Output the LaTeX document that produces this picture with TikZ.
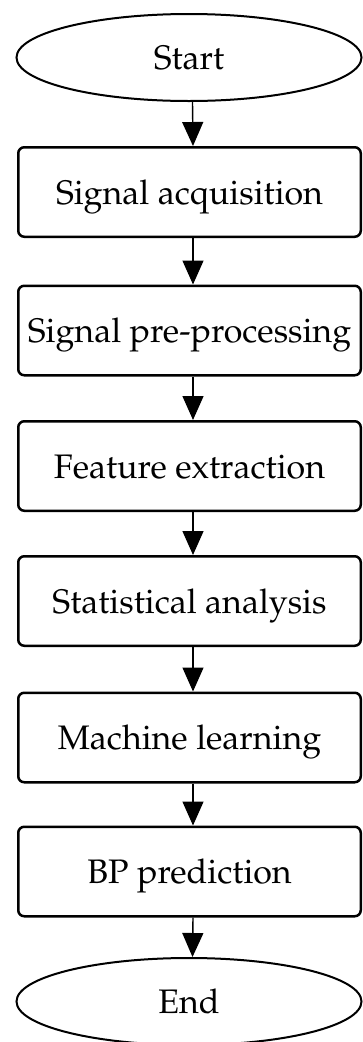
\documentclass[tikz,border=0pt]{standalone}
\usepackage[T1]{fontenc}
\usepackage{mathpazo}
\usetikzlibrary{shapes.geometric,arrows.meta}
\tikzset{
  every node/.style={font=\fontsize{34}{40}\selectfont, inner sep=0pt, text height=24pt, text depth=0pt},
  term/.style={ellipse, draw, line width=2pt, minimum width=345pt, minimum height=87pt},
  proc/.style={rectangle, draw, rounded corners=6pt, line width=2.5pt, minimum width=342.5pt, minimum height=89.5pt},
  conn/.style={line width=1.4pt, -{Triangle[length=24pt,width=21pt]}}
}
\begin{document}
\begin{tikzpicture}[x=1pt,y=-1pt]
\useasboundingbox (0,0) rectangle (363,1042);
\node[term] (start) at (189,57.5) {Start};
\node[proc] (p1) at (189.5,192) {Signal acquisition};
\node[proc] (p2) at (189.5,330.5) {Signal pre-processing};
\node[proc] (p3) at (189.5,466) {Feature extraction};
\node[proc] (p4) at (189.5,601) {Statistical analysis};
\node[proc] (p5) at (189.5,737.5) {Machine learning};
\node[proc] (p6) at (189.5,871.5) {BP prediction};
\node[term] (end) at (189,1001.5) {End};
\draw[conn] ([xshift=3.5pt]start.south) -- ([xshift=3.5pt]p1.north);
\draw[conn] ([xshift=3.5pt]p1.south) -- ([xshift=3.5pt]p2.north);
\draw[conn] ([xshift=3.5pt]p2.south) -- ([xshift=3.5pt]p3.north);
\draw[conn] ([xshift=3.5pt]p3.south) -- ([xshift=3.5pt]p4.north);
\draw[conn] ([xshift=3.5pt]p4.south) -- ([xshift=3.5pt]p5.north);
\draw[conn] ([xshift=3.5pt]p5.south) -- ([xshift=3.5pt]p6.north);
\draw[conn] ([xshift=3.5pt]p6.south) -- ([xshift=3.5pt]end.north);
\end{tikzpicture}
\end{document}
